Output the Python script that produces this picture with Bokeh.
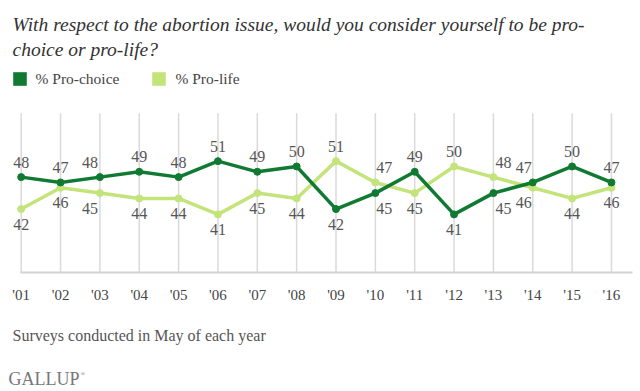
from bokeh.plotting import figure
from bokeh.models import (ColumnDataSource, FixedTicker, Label, Legend, LegendItem)
from bokeh.core.properties import value
from bokeh.embed import file_html
from bokeh.resources import INLINE

# ---- data ----
years = ["'01", "'02", "'03", "'04", "'05", "'06", "'07", "'08",
         "'09", "'10", "'11", "'12", "'13", "'14", "'15", "'16"]
pro_choice = [48, 47, 48, 49, 48, 51, 49, 50, 42, 45, 49, 41, 45, 47, 50, 47]
pro_life = [42, 46, 45, 44, 44, 41, 45, 44, 51, 47, 45, 50, 48, 46, 44, 46]
y_min, y_max = 30, 60

title_lines = ["With respect to the abortion issue, would you consider yourself to be pro-",
               "choice or pro-life?"]
series_names = ["% Pro-choice", "% Pro-life"]
footnote = "Surveys conducted in May of each year"

# ---- style ----
DARK = "#107a33"
LIGHT = "#c3e47a"
SERIF = "Liberation Serif"
label_dx = [0, 0, -10, 0, 0, 0, 0, 0, 0, 9, 0, 0, 10, -9, 0, 0]

xs = list(range(1, len(years) + 1))
nan = float("nan")

W, H = 640, 391
p = figure(width=W, height=H, output_backend="svg", toolbar_location=None,
           x_range=(0.474, 16.738), y_range=(7.75, 81.16),
           min_border=0)
p.outline_line_color = None
p.background_fill_color = "white"
p.yaxis.visible = False
p.ygrid.grid_line_color = None
p.xgrid.grid_line_color = None

ax = p.xaxis[0]
ax.fixed_location = y_min
ax.bounds = (0.98, 16.53)
ax.ticker = FixedTicker(ticks=xs)
ax.major_label_overrides = {x: y for x, y in zip(xs, years)}
ax.major_tick_line_color = None
ax.minor_tick_line_color = None
ax.axis_line_color = "#d3d3d3"
ax.axis_line_width = 2
ax.major_label_standoff = 8
ax.major_label_text_font = SERIF
ax.major_label_text_font_size = "15px"
ax.major_label_text_color = "#444444"

# vertical grid lines spanning the value range
p.segment(x0=xs, x1=xs, y0=[y_min] * len(xs), y1=[y_max] * len(xs),
          line_color="#dadada", line_width=1.5)

src = ColumnDataSource(dict(x=xs, choice=pro_choice, life=pro_life))
p.line("x", "life", source=src, color=LIGHT, line_width=3.5)
p.scatter("x", "life", source=src, color=LIGHT, size=7)
p.line("x", "choice", source=src, color=DARK, line_width=3.5)
p.scatter("x", "choice", source=src, color=DARK, size=7)

# value labels: the higher series above, the lower below
lab_x, lab_y, lab_t, lab_dy, lab_dx = [], [], [], [], []
for i, (c, l) in enumerate(zip(pro_choice, pro_life)):
    for v, other in ((c, l), (l, c)):
        lab_x.append(xs[i]); lab_y.append(v); lab_t.append(str(v))
        lab_dy.append(-15 if v > other else 15)
        lab_dx.append(label_dx[i])
lsrc = ColumnDataSource(dict(x=lab_x, y=lab_y, t=lab_t, dx=lab_dx, dy=lab_dy))
p.text("x", "y", text="t", source=lsrc, x_offset="dx", y_offset="dy",
       text_align="center", text_baseline="middle",
       text_font=value(SERIF), text_font_size="16px", text_color="#555555")

# legend (swatch-only renderers with no drawable extent)
r1 = p.quad(left=[nan], right=[nan], top=[nan], bottom=[nan],
            fill_color=DARK, line_color=None)
r2 = p.quad(left=[nan], right=[nan], top=[nan], bottom=[nan],
            fill_color=LIGHT, line_color=None)
legend = Legend(items=[LegendItem(label=series_names[0], renderers=[r1]),
                       LegendItem(label=series_names[1], renderers=[r2])],
                location=(10.5, H - 87.5), orientation="horizontal",
                glyph_width=17, glyph_height=17, label_height=17,
                label_standoff=8, spacing=31, padding=0, margin=0,
                border_line_color=None, background_fill_alpha=0,
                label_text_font=SERIF, label_text_font_size="15.5px",
                label_text_color="#444444", label_text_baseline="middle")
p.add_layout(legend, "center")

# titles and notes (screen units from the bottom-left of the canvas)
for txt, yy in zip(title_lines, (H - 24, H - 49)):
    p.add_layout(Label(x=12, y=yy, x_units="screen", y_units="screen", text=txt,
                       text_font=SERIF, text_font_style="italic",
                       text_font_size="19.5px", text_color="#333333",
                       text_baseline="alphabetic"))
p.add_layout(Label(x=12, y=H - 335, x_units="screen", y_units="screen", text=footnote,
                   text_font=SERIF, text_font_size="16px", text_color="#555555",
                   text_baseline="middle"))
p.add_layout(Label(x=8, y=H - 378.5, x_units="screen", y_units="screen", text="GALLUP",
                   text_font=SERIF, text_font_size="18px", text_color="#777777",
                   text_baseline="middle"))
p.add_layout(Label(x=80, y=H - 373, x_units="screen", y_units="screen", text="®",
                   text_font=SERIF, text_font_size="6px", text_color="#777777",
                   text_baseline="middle"))

open("out.html", "w").write(file_html(p, INLINE))
